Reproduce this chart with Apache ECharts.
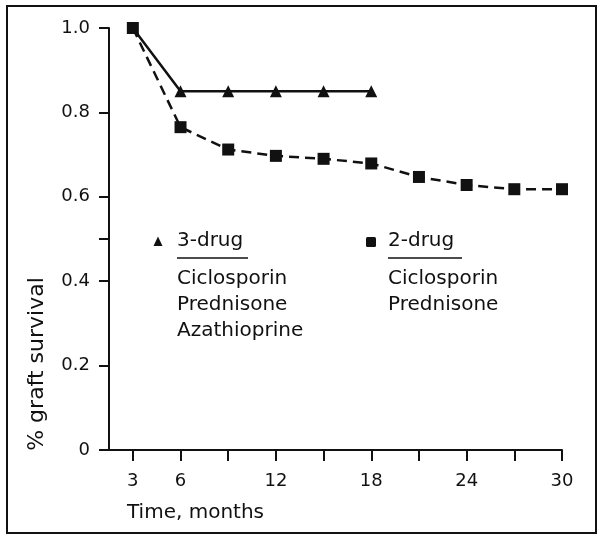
<!DOCTYPE html>
<html>
<head>
<meta charset="utf-8">
<script src="https://cdn.jsdelivr.net/npm/echarts@6/dist/echarts.min.js"></script>
<style>
html,body{margin:0;padding:0;background:#fff;}
#chart{width:602px;height:548px;}
</style>
</head>
<body>
<div id="chart"></div>
<script>
// Data (months, fraction of grafts surviving)
const months3 = [3, 6, 9, 12, 15, 18];
const threeDrug = [1.0, 0.85, 0.85, 0.85, 0.85, 0.85];
const months2 = [3, 6, 9, 12, 15, 18, 21, 24, 27, 30];
const twoDrug = [1.0, 0.765, 0.712, 0.697, 0.69, 0.679, 0.647, 0.628, 0.618, 0.618];
const xTickValues = [3, 6, 9, 12, 15, 18, 21, 24, 27, 30];
const xLabelValues = [3, 6, 12, 18, 24, 30];
const yTickValues = [0, 0.2, 0.4, 0.5, 0.6, 0.8, 1.0];
const yLabelValues = [0, 0.2, 0.4, 0.6, 0.8, 1.0];
const legend3 = ['3-drug', 'Ciclosporin', 'Prednisone', 'Azathioprine'];
const legend2 = ['2-drug', 'Ciclosporin', 'Prednisone'];
const xTitle = 'Time, months';
const yTitle = '% graft survival';

const FONT = '"DejaVu Sans", sans-serif';
const INK = '#111';

const chart = echarts.init(document.getElementById('chart'), null, {renderer: 'canvas'});

const lineCenters = [241, 279, 305, 331];
function legendBlock(items, x) {
  return items.map((t, i) => ({
    type: 'text', x: x, y: lineCenters[i],
    style: {text: t, font: '20px ' + FONT, fill: INK, align: 'left', verticalAlign: 'middle'}
  }));
}

const graphics = [
  {type: 'rect', shape: {x: 7, y: 6, width: 589, height: 527},
   style: {fill: 'none', stroke: INK, lineWidth: 2}},
  {type: 'text', x: 127, y: 513,
   style: {text: xTitle, font: '20px ' + FONT, fill: INK, align: 'left', verticalAlign: 'middle'}},
  {type: 'text', x: 37, y: 364, rotation: Math.PI / 2,
   style: {text: yTitle, font: '22px ' + FONT, fill: INK, align: 'center', verticalAlign: 'middle'}},
  // legend icons
  {type: 'polygon', shape: {points: [[158, 236.5], [153.5, 246], [162.5, 246]]}, style: {fill: INK}},
  {type: 'rect', shape: {x: 366, y: 237, width: 10, height: 10, r: 1.5}, style: {fill: INK}},
  // underlines
  {type: 'line', shape: {x1: 177, y1: 258, x2: 248, y2: 258}, style: {stroke: INK, lineWidth: 1.5}},
  {type: 'line', shape: {x1: 388, y1: 258, x2: 462, y2: 258}, style: {stroke: INK, lineWidth: 1.5}}
].concat(legendBlock(legend3, 177)).concat(legendBlock(legend2, 388));

chart.setOption({
  backgroundColor: '#fff',
  animation: false,
  grid: {left: 109, right: 40, top: 28, bottom: 98},
  xAxis: {
    type: 'value', min: 1.5, max: 30,
    axisLine: {lineStyle: {color: INK, width: 2}},
    axisTick: {show: true, length: 11, lineStyle: {color: INK, width: 2}, customValues: xTickValues},
    axisLabel: {customValues: xLabelValues, color: INK, fontFamily: FONT, fontSize: 18, margin: 22},
    splitLine: {show: false}
  },
  yAxis: {
    type: 'value', min: 0, max: 1.0,
    axisLine: {show: true, lineStyle: {color: INK, width: 2}},
    axisTick: {show: true, length: 10, lineStyle: {color: INK, width: 2}, customValues: yTickValues},
    axisLabel: {customValues: yLabelValues, color: INK, fontFamily: FONT, fontSize: 18, margin: 19,
      formatter: v => v === 0 ? '0' : v.toFixed(1)},
    splitLine: {show: false}
  },
  series: [
    {
      name: '2-drug', type: 'line',
      data: months2.map((m, i) => [m, twoDrug[i]]),
      symbol: 'rect', symbolSize: 12,
      itemStyle: {color: INK},
      lineStyle: {color: INK, width: 2.5, type: [10, 6]},
      z: 2
    },
    {
      name: '3-drug', type: 'line',
      data: months3.map((m, i) => [m, threeDrug[i]]),
      symbol: 'triangle', symbolSize: 12,
      itemStyle: {color: INK},
      lineStyle: {color: INK, width: 2.5},
      z: 3
    }
  ],
  graphic: graphics
});
</script>
</body>
</html>
